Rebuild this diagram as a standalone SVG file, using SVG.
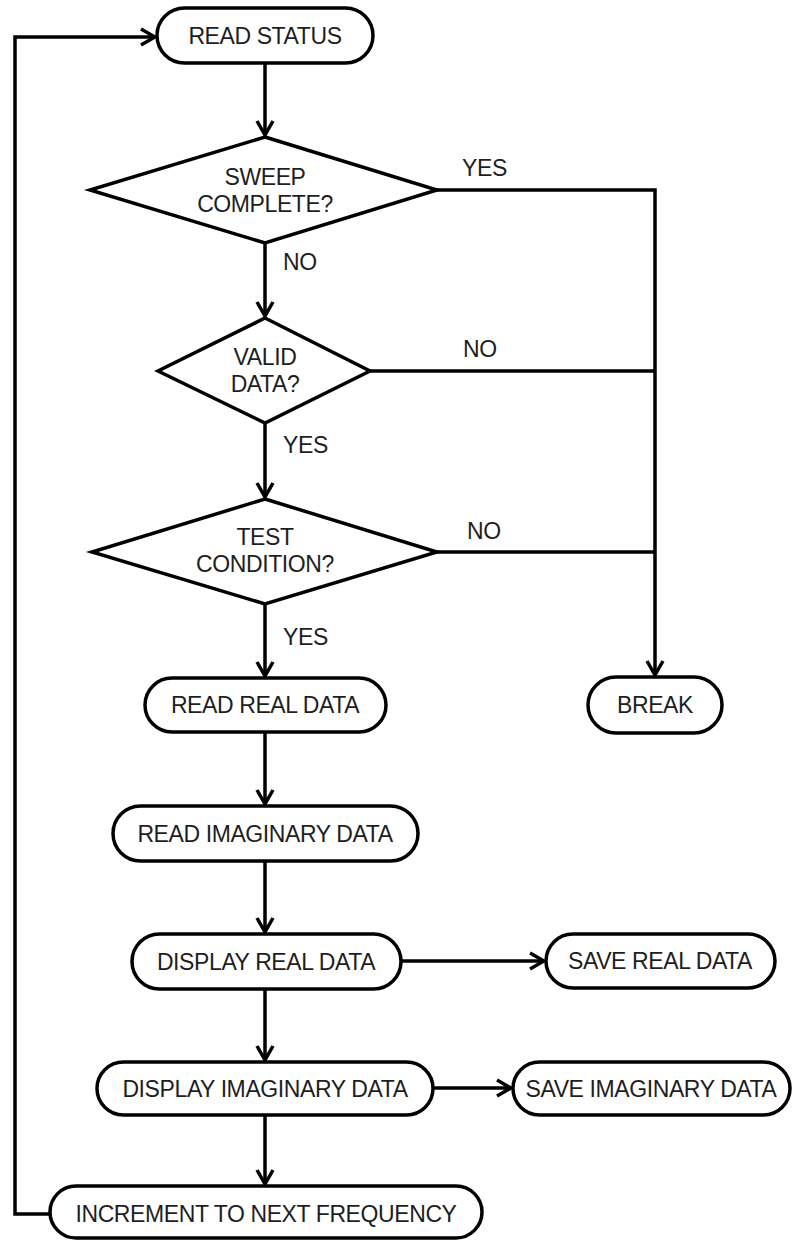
<svg xmlns="http://www.w3.org/2000/svg" width="805" height="1240" viewBox="0 0 805 1240">
  <style>
    .term { fill: #ffffff; stroke: #000000; stroke-width: 3.5; }
    .dec { fill: #ffffff; stroke: #000000; stroke-width: 3.5; stroke-linejoin: miter; }
    .lbl { font-family: "Liberation Sans", Arial, sans-serif; font-size: 23px; letter-spacing: -0.4px; fill: #1e1e1e; text-anchor: middle; }
    .edge-lbl { font-family: "Liberation Sans", Arial, sans-serif; font-size: 23px; letter-spacing: -0.4px; fill: #1e1e1e; }
    .wire { fill: none; stroke: #000000; stroke-width: 3.5; }
    .arrow { fill: none; stroke: #000000; stroke-width: 3.5; marker-end: url(#chev); }
  </style>
  <defs>
    <marker id="chev" markerUnits="userSpaceOnUse" viewBox="-16 -10 18 20" refX="0" refY="0" markerWidth="18" markerHeight="20" orient="auto">
      <path d="M-14,-8 L0,0 L-14,8" fill="none" stroke="#000000" stroke-width="3.5" stroke-linejoin="miter"/>
    </marker>
  </defs>

  <rect width="805" height="1240" fill="#ffffff"/>

  <!-- connectors -->
  <g id="connectors">
    <path class="arrow" d="M265,63 V135"/>
    <path class="arrow" d="M437,190 H655 V675"/>
    <path class="arrow" d="M265,243 V316"/>
    <path class="wire" d="M370,371 H655"/>
    <path class="arrow" d="M265,423 V497"/>
    <path class="wire" d="M437,552 H655"/>
    <path class="arrow" d="M265,604 V676"/>
    <path class="arrow" d="M265,732 V804"/>
    <path class="arrow" d="M265,861 V932"/>
    <path class="arrow" d="M401,961 H544"/>
    <path class="arrow" d="M265,989 V1060"/>
    <path class="arrow" d="M433,1088 H511"/>
    <path class="arrow" d="M265,1115 V1184"/>
    <path class="arrow" d="M50,1214 H15 V37 H155"/>

    <text class="edge-lbl" x="462" y="176">YES</text>
    <text class="edge-lbl" x="283" y="270">NO</text>
    <text class="edge-lbl" x="463" y="357">NO</text>
    <text class="edge-lbl" x="283" y="453">YES</text>
    <text class="edge-lbl" x="467" y="539">NO</text>
    <text class="edge-lbl" x="283" y="645">YES</text>
  </g>

  <!-- process and terminal nodes -->
  <g id="read-status">
    <rect class="term" x="157" y="8" width="216" height="55" rx="27.5"/>
    <text class="lbl" x="265" y="44">READ STATUS</text>
  </g>

  <g id="sweep-complete">
    <polygon class="dec" points="265,137 437,190 265,243 90,190"/>
    <text class="lbl" x="265" y="185">SWEEP</text>
    <text class="lbl" x="265" y="212">COMPLETE?</text>
  </g>

  <g id="valid-data">
    <polygon class="dec" points="265,318 370,371 265,423 158,371"/>
    <text class="lbl" x="265" y="365">VALID</text>
    <text class="lbl" x="265" y="392">DATA?</text>
  </g>

  <g id="test-condition">
    <polygon class="dec" points="265,499 437,552 265,604 92,552"/>
    <text class="lbl" x="265" y="545">TEST</text>
    <text class="lbl" x="265" y="572">CONDITION?</text>
  </g>

  <g id="break">
    <rect class="term" x="588" y="677" width="134" height="56" rx="28"/>
    <text class="lbl" x="655" y="713">BREAK</text>
  </g>

  <g id="read-real-data">
    <rect class="term" x="145" y="678" width="241" height="54" rx="27"/>
    <text class="lbl" x="265" y="713">READ REAL DATA</text>
  </g>

  <g id="read-imaginary-data">
    <rect class="term" x="113" y="806" width="305" height="55" rx="27.5"/>
    <text class="lbl" x="265" y="842">READ IMAGINARY DATA</text>
  </g>

  <g id="display-real-data">
    <rect class="term" x="132" y="934" width="269" height="55" rx="27.5"/>
    <text class="lbl" x="266" y="970">DISPLAY REAL DATA</text>
  </g>

  <g id="save-real-data">
    <rect class="term" x="546" y="934" width="229" height="54" rx="27"/>
    <text class="lbl" x="660" y="969">SAVE REAL DATA</text>
  </g>

  <g id="display-imaginary-data">
    <rect class="term" x="97" y="1062" width="336" height="53" rx="26.5"/>
    <text class="lbl" x="265" y="1097">DISPLAY IMAGINARY DATA</text>
  </g>

  <g id="save-imaginary-data">
    <rect class="term" x="513" y="1062" width="277" height="53" rx="26.5"/>
    <text class="lbl" x="651" y="1097">SAVE IMAGINARY DATA</text>
  </g>

  <g id="increment-frequency">
    <rect class="term" x="50" y="1186" width="432" height="52" rx="26"/>
    <text class="lbl" x="266" y="1222">INCREMENT TO NEXT FREQUENCY</text>
  </g>
</svg>
